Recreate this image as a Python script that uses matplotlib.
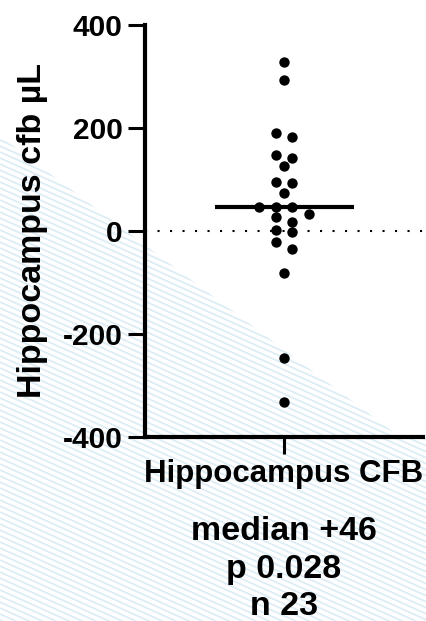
import numpy as np
import matplotlib
matplotlib.use('Agg')
import matplotlib.pyplot as plt
from matplotlib.patches import Polygon
from matplotlib.collections import LineCollection
from matplotlib.transforms import blended_transform_factory

# values (cfb, uL)
cfb_values = [329, 294, 191, 183, 147, 142, 126, 96, 94, 74, 46, 46, 46,
              33, 28, 18, 1, -1, -21, -34, -82, -246, -333]
category = 'Hippocampus CFB'
p_value = '0.028'
y_ticks = [-400, -200, 0, 200, 400]

plt.rcParams['font.family'] = ['Liberation Sans', 'DejaVu Sans']
plt.rcParams['font.weight'] = 'bold'
plt.rcParams['axes.unicode_minus'] = False


def swarm_offsets(vals, gap=14, step=0.06):
    # group close values into rows, spread each row symmetrically
    order = np.argsort(vals)[::-1]
    offs = np.zeros(len(vals))
    groups = []
    for i in order:
        if groups and vals[groups[-1][0]] - vals[i] < gap:
            groups[-1].append(i)
        else:
            groups.append([i])
    for g in groups:
        k = len(g)
        pos = (np.arange(k) - (k - 1) / 2) * 2 * step
        for idx, p in zip(g, pos):
            offs[idx] = p
    return offs


vals = np.array(cfb_values, dtype=float)
med = np.median(vals)

fig = plt.figure(figsize=(4.26, 6.21), dpi=100)
fig.patch.set_facecolor('white')
W, H = 426, 621

# faint striped background in the lower left, on its own axes behind
bg = fig.add_axes([0, 0, 1, 1], zorder=0)
bg.set_xlim(0, W)
bg.set_ylim(H, 0)
bg.axis('off')
poly_px = [(0, 136), (400, 437), (W, 437), (W, H), (0, H)]
clip = Polygon(poly_px, closed=True, facecolor='none', edgecolor='none')
bg.add_patch(clip)
segs = [[(0, c), (W, c + 0.45 * W)] for c in np.arange(-250, H, 6)]
stripes = LineCollection(segs, colors='#dcedf5', linewidths=1.3)
bg.add_collection(stripes)
stripes.set_clip_path(clip)

ax = fig.add_axes([145 / W, 1 - 437 / H, (423 - 145) / W, (437 - 25) / H],
                  zorder=2)
ax.set_facecolor('none')

x = swarm_offsets(vals)
ax.scatter(x, vals, s=56, color='black', zorder=3, linewidths=0)
ax.hlines(med, -0.5, 0.5, color='black', lw=3, zorder=4)
ax.axhline(0, color='black', lw=1.5, dashes=(1, 5), zorder=2)

ax.set_xlim(-1, 1)
ax.set_ylim(-400, 400)
ax.set_yticks(y_ticks)
ax.set_yticklabels([str(t) for t in y_ticks], fontsize=21.5, fontweight='bold')
ax.set_xticks([0])
ax.set_xticklabels([category], fontsize=22.5, fontweight='bold')

for s in ['top', 'right']:
    ax.spines[s].set_visible(False)
for s in ['left', 'bottom']:
    ax.spines[s].set_linewidth(3)
ax.tick_params(axis='both', length=12, width=2.2, pad=4)

ax.set_ylabel('Hippocampus cfb µL', fontsize=24.5, fontweight='bold')
ax.yaxis.set_label_coords(-0.35, 0.5)

tr = blended_transform_factory(ax.transData, fig.transFigure)
lines = ['median +%d' % round(med), 'p ' + p_value, 'n %d' % len(vals)]
baselines = [540, 578, 615]
for txt, yb in zip(lines, baselines):
    ax.text(0, 1 - yb / H, txt, transform=tr, ha='center', va='baseline',
            fontsize=24.5, fontweight='bold', clip_on=False)

fig.savefig('out.png', dpi=100)
